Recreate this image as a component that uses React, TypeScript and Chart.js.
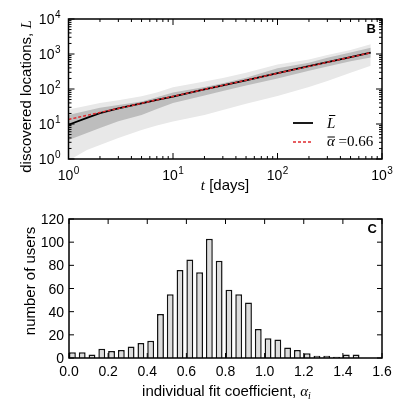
import React, { useEffect, useRef } from 'react';
import { Chart, registerables } from 'chart.js';

Chart.register(...registerables);

// ---------- Panel B data ----------
const tDays = [1, 1.5, 2, 3, 5, 7, 10, 20, 30, 50, 100, 200, 300, 500, 780];
const meanL = [9.5, 15, 20.5, 28, 39, 49, 61, 97, 127, 177, 282, 447, 585, 820, 1100];
const innerHi = [18, 24, 29, 35, 44, 58, 80, 115, 145, 210, 390, 560, 780, 1100, 1500];
const innerLo = [3.5, 5.5, 7.7, 12, 18, 27, 40, 65, 88, 125, 200, 330, 440, 620, 800];
const outerHi = [26, 33, 40, 48, 62, 80, 112, 165, 205, 290, 500, 700, 930, 1300, 1900];
const outerLo = [0.9, 1.8, 2.5, 4, 6.7, 9, 11.7, 18, 25, 38, 63, 115, 170, 290, 460];
const fitT = [1, 780];
const fitL = [13.5, 1090];
const xDecades = [1, 10, 100, 1000];
const xDecadeExp = ['0', '1', '2', '3'];
const yDecades = [1, 10, 100, 1000, 10000];
const yDecadeExp = ['0', '1', '2', '3', '4'];
const minorMultiples = [2, 3, 4, 5, 6, 7, 8, 9];

// ---------- Panel C data ----------
const binLeft = [0, 0.05, 0.1, 0.15, 0.2, 0.25, 0.3, 0.35, 0.4, 0.45, 0.5, 0.55, 0.6, 0.65, 0.7,
  0.75, 0.8, 0.85, 0.9, 0.95, 1.0, 1.05, 1.1, 1.15, 1.2, 1.25, 1.3, 1.35, 1.4, 1.45];
const userCounts = [5, 5, 3, 8, 6, 7, 10, 13, 15, 38, 55, 76, 85, 74, 103,
  84, 59, 55, 48, 25, 17, 16, 9, 7, 4, 2, 2, 1, 3, 3];
const alphaTicks = [0, 0.2, 0.4, 0.6, 0.8, 1.0, 1.2, 1.4, 1.6];
const alphaTickLabels = ['0.0', '0.2', '0.4', '0.6', '0.8', '1.0', '1.2', '1.4', '1.6'];
const userTicks = [0, 20, 40, 60, 80, 100, 120];

const BAR_W = 0.035;
const SANS = '"Liberation Sans", Arial, Helvetica, sans-serif';
const SERIF = '"Liberation Serif", "DejaVu Serif", serif';

type Part = { text: string; font: string; dy?: number };

function drawParts(ctx: CanvasRenderingContext2D, parts: Part[], cx: number, cy: number, rot: number) {
  ctx.save();
  ctx.translate(cx, cy);
  ctx.rotate(rot);
  ctx.textBaseline = 'alphabetic';
  ctx.textAlign = 'left';
  ctx.fillStyle = '#000';
  const widths = parts.map((p) => { ctx.font = p.font; return ctx.measureText(p.text).width; });
  const total = widths.reduce((s, w) => s + w, 0);
  let x = -total / 2;
  parts.forEach((p, i) => {
    ctx.font = p.font;
    ctx.fillText(p.text, x, p.dy || 0);
    x += widths[i];
  });
  ctx.restore();
}

function drawPow(ctx: CanvasRenderingContext2D, x: number, baseline: number, exp: string, align: 'center' | 'right') {
  ctx.save();
  ctx.fillStyle = '#000';
  ctx.textAlign = 'left';
  ctx.textBaseline = 'alphabetic';
  ctx.font = `14px ${SANS}`;
  const wb = ctx.measureText('10').width;
  ctx.font = `10px ${SANS}`;
  const we = ctx.measureText(exp).width;
  const total = wb + 0.5 + we;
  const start = align === 'center' ? x - total / 2 : x - total;
  ctx.font = `14px ${SANS}`;
  ctx.fillText('10', start, baseline);
  ctx.font = `10px ${SANS}`;
  ctx.fillText(exp, start + wb + 0.5, baseline - 6);
  ctx.restore();
}

function tick(ctx: CanvasRenderingContext2D, x1: number, y1: number, x2: number, y2: number) {
  ctx.beginPath();
  ctx.moveTo(x1, y1);
  ctx.lineTo(x2, y2);
  ctx.stroke();
}

const panelBDecor = {
  id: 'panelBDecor',
  afterDraw(chart: any) {
    const { ctx, chartArea: a, scales } = chart;
    const xs = scales.x;
    const ys = scales.y;
    ctx.save();
    ctx.strokeStyle = '#000';
    ctx.lineWidth = 1;
    xDecades.forEach((d) => {
      const px = xs.getPixelForValue(d);
      tick(ctx, px, a.bottom, px, a.bottom - 6);
      tick(ctx, px, a.top, px, a.top + 6);
    });
    xDecades.slice(0, -1).forEach((d) => {
      minorMultiples.forEach((m) => {
        const px = xs.getPixelForValue(d * m);
        tick(ctx, px, a.bottom, px, a.bottom - 3);
        tick(ctx, px, a.top, px, a.top + 3);
      });
    });
    yDecades.forEach((d) => {
      const py = ys.getPixelForValue(d);
      tick(ctx, a.left, py, a.left + 6, py);
      tick(ctx, a.right, py, a.right - 6, py);
    });
    yDecades.slice(0, -1).forEach((d) => {
      minorMultiples.forEach((m) => {
        const py = ys.getPixelForValue(d * m);
        tick(ctx, a.left, py, a.left + 3, py);
        tick(ctx, a.right, py, a.right - 3, py);
      });
    });
    ctx.lineWidth = 1.5;
    ctx.strokeRect(a.left, a.top, a.right - a.left, a.bottom - a.top);
    ctx.restore();

    xDecades.forEach((d, i) => drawPow(ctx, xs.getPixelForValue(d), a.bottom + 20.5, xDecadeExp[i], 'center'));
    yDecades.forEach((d, i) => drawPow(ctx, a.left - 8, ys.getPixelForValue(d) + 5, yDecadeExp[i], 'right'));

    drawParts(ctx, [
      { text: 'discovered locations, ', font: `15px ${SANS}` },
      { text: 'L', font: `italic 15px ${SERIF}` },
    ], 30.5, 96.5, -Math.PI / 2);
    drawParts(ctx, [
      { text: 't', font: `italic 15px ${SERIF}` },
      { text: ' [days]', font: `15px ${SANS}` },
    ], 225, 190, 0);

    ctx.save();
    ctx.fillStyle = '#000';
    ctx.font = `bold 13px ${SANS}`;
    ctx.textAlign = 'right';
    ctx.textBaseline = 'alphabetic';
    ctx.fillText('B', a.right - 6, a.top + 14);
    ctx.restore();

    // legend
    const lx0 = a.right - 89;
    const lx1 = a.right - 69;
    const ly1 = a.top + 104;
    const ly2 = a.top + 123;
    const tx = a.right - 55;
    ctx.save();
    ctx.strokeStyle = '#000';
    ctx.lineWidth = 1.8;
    tick(ctx, lx0, ly1, lx1, ly1);
    ctx.strokeStyle = '#e0282e';
    ctx.lineWidth = 1.5;
    ctx.setLineDash([3, 2]);
    tick(ctx, lx0, ly2, lx1, ly2);
    ctx.setLineDash([]);
    ctx.fillStyle = '#000';
    ctx.textAlign = 'left';
    ctx.textBaseline = 'alphabetic';
    ctx.font = `italic 15px ${SERIF}`;
    ctx.fillText('L', tx, ly1 + 5);
    const wl = ctx.measureText('L').width;
    ctx.strokeStyle = '#000';
    ctx.lineWidth = 1;
    tick(ctx, tx + 2, ly1 - 7.5, tx + wl, ly1 - 7.5);
    ctx.fillText('\u03B1', tx, ly2 + 4);
    const wa = ctx.measureText('\u03B1').width;
    tick(ctx, tx + 0.5, ly2 - 5, tx + wa, ly2 - 5);
    ctx.font = `15px ${SERIF}`;
    ctx.fillText(' =0.66', tx + wa, ly2 + 4);
    ctx.restore();
  },
};

const panelCDecor = {
  id: 'panelCDecor',
  afterDraw(chart: any) {
    const { ctx, chartArea: a, scales } = chart;
    const xs = scales.x;
    const ys = scales.y;
    ctx.save();
    ctx.strokeStyle = '#000';
    ctx.lineWidth = 1;
    alphaTicks.forEach((v) => {
      const px = xs.getPixelForValue(v);
      tick(ctx, px, a.bottom, px, a.bottom - 5);
      tick(ctx, px, a.top, px, a.top + 5);
    });
    userTicks.forEach((v) => {
      const py = ys.getPixelForValue(v);
      tick(ctx, a.left, py, a.left + 5, py);
      tick(ctx, a.right, py, a.right - 5, py);
    });
    ctx.lineWidth = 1.5;
    ctx.strokeRect(a.left, a.top, a.right - a.left, a.bottom - a.top);

    ctx.fillStyle = '#000';
    ctx.font = `14px ${SANS}`;
    ctx.textBaseline = 'alphabetic';
    ctx.textAlign = 'center';
    alphaTicks.forEach((v, i) => ctx.fillText(alphaTickLabels[i], xs.getPixelForValue(v), a.bottom + 18));
    ctx.textAlign = 'right';
    userTicks.forEach((v) => ctx.fillText(String(v), a.left - 5, ys.getPixelForValue(v) + 5));

    ctx.font = `bold 13px ${SANS}`;
    ctx.fillText('C', a.right - 5, a.top + 14);
    ctx.restore();

    drawParts(ctx, [{ text: 'number of users', font: `15px ${SANS}` }], 35, 81, -Math.PI / 2);
    drawParts(ctx, [
      { text: 'individual fit coefficient, ', font: `15px ${SANS}` },
      { text: '\u03B1', font: `italic 15px ${SERIF}` },
      { text: 'i', font: `italic 10px ${SERIF}`, dy: 3 },
    ], 226.5, 196, 0);
  },
};

function PanelB() {
  const ref = useRef<HTMLCanvasElement>(null);
  useEffect(() => {
    const toPts = (ys: number[]) => tDays.map((t, i) => ({ x: t, y: ys[i] }));
    const chart = new Chart(ref.current!, {
      type: 'line',
      data: {
        datasets: [
          { label: 'fit', data: fitT.map((t, i) => ({ x: t, y: fitL[i] })), borderColor: '#e0282e', borderDash: [3, 2], borderWidth: 1.5, pointRadius: 0, fill: false },
          { label: 'mean', data: toPts(meanL), borderColor: '#000', borderWidth: 1.8, pointRadius: 0, fill: false },
          { label: 'innerHi', data: toPts(innerHi), borderColor: 'transparent', borderWidth: 0, backgroundColor: '#bdbdbd', pointRadius: 0, fill: '+1' },
          { label: 'innerLo', data: toPts(innerLo), borderColor: 'transparent', borderWidth: 0, pointRadius: 0, fill: false },
          { label: 'outerHi', data: toPts(outerHi), borderColor: 'transparent', borderWidth: 0, backgroundColor: '#e8e8e8', pointRadius: 0, fill: '+1' },
          { label: 'outerLo', data: toPts(outerLo), borderColor: 'transparent', borderWidth: 0, pointRadius: 0, fill: false },
        ],
      },
      options: {
        animation: false,
        responsive: false,
        events: [],
        layout: { padding: { left: 68.5, right: 14, top: 19, bottom: 41 } },
        plugins: { legend: { display: false }, tooltip: { enabled: false } },
        scales: {
          x: { type: 'logarithmic', min: 1, max: 1000, display: false },
          y: { type: 'logarithmic', min: 1, max: 10000, display: false },
        },
      },
      plugins: [panelBDecor],
    } as any);
    return () => chart.destroy();
  }, []);
  return <canvas ref={ref} width={396} height={200} style={{ display: 'block' }} />;
}

function PanelC() {
  const ref = useRef<HTMLCanvasElement>(null);
  useEffect(() => {
    const chart = new Chart(ref.current!, {
      type: 'bar',
      data: {
        datasets: [
          {
            label: 'users',
            data: binLeft.map((b, i) => ({ x: b + BAR_W / 2, y: userCounts[i] })),
            backgroundColor: '#dcdcdc',
            borderColor: '#111',
            borderWidth: 1.5,
            barPercentage: 0.7,
            categoryPercentage: 1.0,
          },
        ],
      },
      options: {
        animation: false,
        responsive: false,
        events: [],
        layout: { padding: { left: 69, right: 14, top: 19, bottom: 52 } },
        plugins: { legend: { display: false }, tooltip: { enabled: false } },
        scales: {
          x: { type: 'linear', min: 0, max: 1.6, offset: false, display: false },
          y: { type: 'linear', min: 0, max: 120, display: false },
        },
      },
      plugins: [panelCDecor],
    } as any);
    return () => chart.destroy();
  }, []);
  return <canvas ref={ref} width={396} height={210} style={{ display: 'block' }} />;
}

export default function App() {
  return (
    <div style={{ position: 'absolute', left: 0, top: 0, width: 396, height: 410, background: '#fff' }}>
      <PanelB />
      <PanelC />
    </div>
  );
}
